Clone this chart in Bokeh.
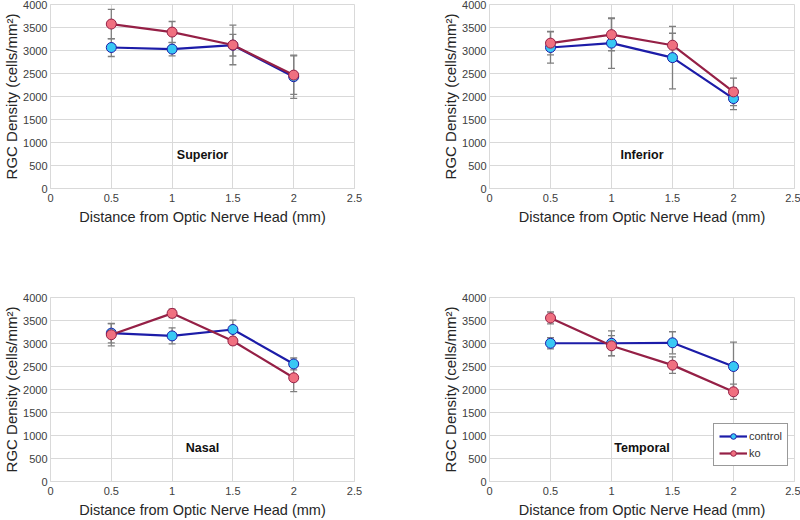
from bokeh.plotting import figure
from bokeh.layouts import gridplot
from bokeh.models import (ColumnDataSource, Whisker, TeeHead, Range1d, FixedTicker,
                          NumeralTickFormatter, Legend, LegendItem)
from bokeh.core.properties import value
from bokeh.embed import file_html
from bokeh.resources import INLINE

# ---------------- data ----------------
distance = [0.5, 1.0, 1.5, 2.0]

superior_control = [3065, 3030, 3115, 2430]
superior_control_err = [195, 145, 235, 470]
superior_ko = [3575, 3400, 3120, 2465]
superior_ko_err = [320, 230, 430, 420]

inferior_control = [3065, 3160, 2845, 1955]
inferior_control_err = [340, 550, 680, 240]
inferior_ko = [3160, 3345, 3115, 2100]
inferior_ko_err = [255, 350, 260, 300]

nasal_control = [3225, 3165, 3305, 2555]
nasal_control_err = [210, 175, 205, 130]
nasal_ko = [3190, 3655, 3055, 2255]
nasal_ko_err = [240, 90, 80, 300]

temporal_control = [3005, 3005, 3015, 2500]
temporal_control_err = [120, 270, 240, 530]
temporal_ko = [3555, 2950, 2530, 1950]
temporal_ko_err = [130, 220, 180, 165]

x_ticks = [0, 0.5, 1, 1.5, 2, 2.5]
y_ticks = [0, 500, 1000, 1500, 2000, 2500, 3000, 3500, 4000]
region_names = ["Superior", "Inferior", "Nasal", "Temporal"]
series_names = ["control", "ko"]

# ---------------- style ----------------
FONT = "Liberation Sans"
CTRL_LINE = "#1c1ca8"
CTRL_FILL = "#38c8f4"
KO_LINE = "#952046"
KO_FILL = "#f07080"
ERR_COLOR = "#7f7f7f"
GRID = "#d9d9d9"


def make_panel(name, ctrl, ctrl_err, ko, ko_err, width, height,
               bl, br, bt, bb, legend=False):
    p = figure(width=width, height=height, output_backend="svg",
               toolbar_location=None,
               x_range=Range1d(0, 2.5), y_range=Range1d(0, 4000),
               min_border_left=bl, min_border_right=br,
               min_border_top=bt, min_border_bottom=bb)
    p.outline_line_color = GRID
    p.background_fill_color = "white"
    p.border_fill_color = "white"
    for g in (p.xgrid[0], p.ygrid[0]):
        g.grid_line_color = GRID
        g.grid_line_width = 1
    p.xaxis.ticker = FixedTicker(ticks=x_ticks)
    p.yaxis.ticker = FixedTicker(ticks=y_ticks)
    p.xaxis.formatter = NumeralTickFormatter(format="0.[0]")
    p.yaxis.formatter = NumeralTickFormatter(format="0")
    p.xaxis.axis_label = "Distance from Optic Nerve Head (mm)"
    p.yaxis.axis_label = "RGC Density (cells/mm²)"
    for ax in (p.xaxis[0], p.yaxis[0]):
        ax.axis_line_color = GRID
        ax.major_tick_line_color = None
        ax.minor_tick_line_color = None
        ax.major_tick_in = 0
        ax.major_tick_out = 0
        ax.major_label_text_font = FONT
        ax.major_label_text_font_size = "11px"
        ax.major_label_text_color = "#404040"
        ax.axis_label_text_font = FONT
        ax.axis_label_text_font_style = "normal"
        ax.axis_label_text_color = "#262626"
    p.xaxis.axis_label_text_font_size = "14.5px"
    p.yaxis.axis_label_text_font_size = "15px"
    p.xaxis.major_label_standoff = 5
    p.xaxis.axis_label_standoff = 4
    p.yaxis.major_label_standoff = 3
    p.yaxis.axis_label_standoff = 0

    renderers = []
    for vals, errs, lc, fc in ((ctrl, ctrl_err, CTRL_LINE, CTRL_FILL),
                               (ko, ko_err, KO_LINE, KO_FILL)):
        src = ColumnDataSource(dict(
            x=distance, y=vals,
            upper=[v + e for v, e in zip(vals, errs)],
            lower=[v - e for v, e in zip(vals, errs)]))
        w = Whisker(base="x", upper="upper", lower="lower", source=src,
                    line_color=ERR_COLOR, line_width=1.3,
                    upper_head=TeeHead(size=7, line_color=ERR_COLOR, line_width=1.3),
                    lower_head=TeeHead(size=7, line_color=ERR_COLOR, line_width=1.3))
        p.add_layout(w)
        ln = p.line("x", "y", source=src, line_color=lc, line_width=2.2)
        sc = p.scatter("x", "y", source=src, size=10, fill_color=fc,
                       line_color=lc, line_width=1)
        renderers.append((ln, sc))

    p.text(x=[1.25], y=[730], text=[name], text_font=value(FONT),
           text_font_style="bold", text_font_size="12.5px",
           text_align="center", text_baseline="middle", text_color="#111111")

    if legend:
        items = [LegendItem(label=series_names[i], renderers=list(renderers[i]))
                 for i in range(2)]
        lg = Legend(items=items, location=(224, 15))
        lg.border_line_color = "#333333"
        lg.border_line_width = 1
        lg.background_fill_color = "white"
        lg.background_fill_alpha = 1
        lg.label_text_font = FONT
        lg.label_text_font_size = "11px"
        lg.label_text_color = "#333333"
        lg.glyph_width = 28
        lg.glyph_height = 14
        lg.label_height = 14
        lg.label_standoff = 2
        lg.spacing = 3
        lg.padding = 5
        lg.margin = 0
        p.add_layout(lg)
    return p


p1 = make_panel(region_names[0], superior_control, superior_control_err,
                superior_ko, superior_ko_err, 400, 250, 49, 46, 4, 62)
p2 = make_panel(region_names[1], inferior_control, inferior_control_err,
                inferior_ko, inferior_ko_err, 400, 250, 89, 6, 4, 62)
p3 = make_panel(region_names[2], nasal_control, nasal_control_err,
                nasal_ko, nasal_ko_err, 400, 270, 49, 46, 47, 38)
p4 = make_panel(region_names[3], temporal_control, temporal_control_err,
                temporal_ko, temporal_ko_err, 400, 270, 89, 6, 47, 38,
                legend=True)

grid = gridplot([[p1, p2], [p3, p4]], toolbar_location=None)

open("out.html", "w").write(file_html(grid, INLINE))
